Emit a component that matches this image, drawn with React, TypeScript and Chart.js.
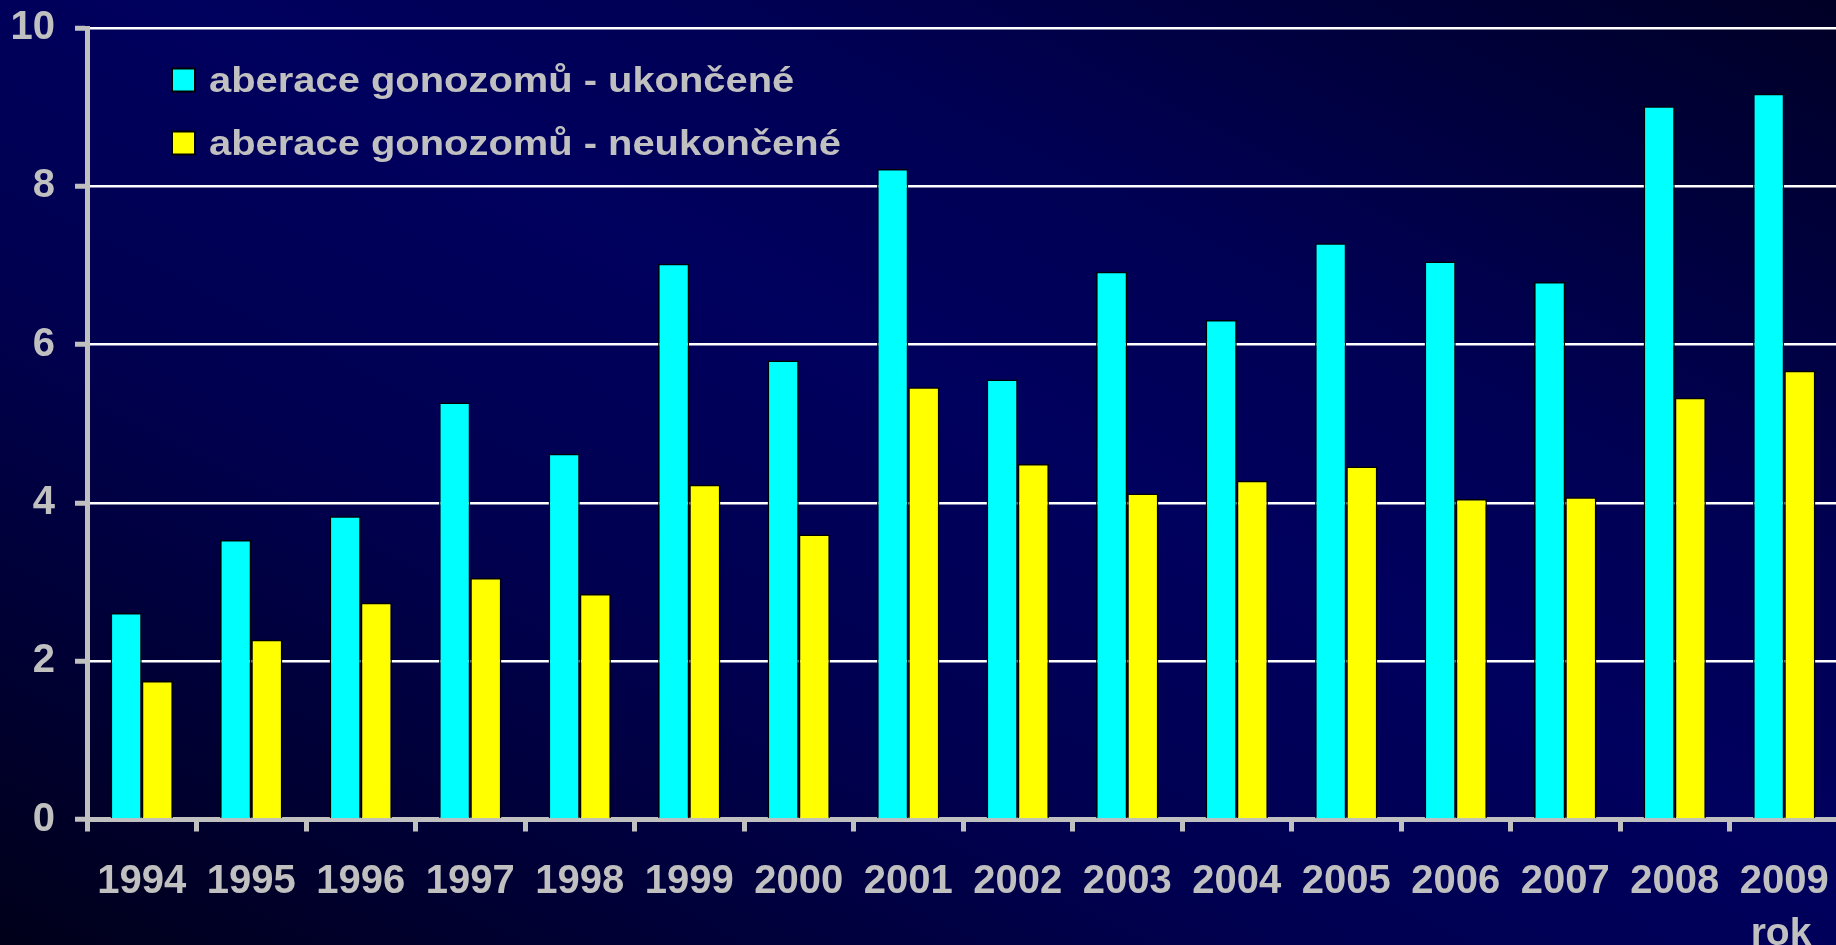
import React, { useEffect, useRef } from "react";
import { Chart, registerables } from "chart.js";

Chart.register(...registerables);

const categories = ["1994", "1995", "1996", "1997", "1998", "1999", "2000", "2001", "2002", "2003", "2004", "2005", "2006", "2007", "2008", "2009"];
const ukoncene = [2.61, 3.53, 3.83, 5.27, 4.62, 7.02, 5.8, 8.22, 5.56, 6.92, 6.31, 7.28, 7.05, 6.79, 9.01, 9.17];
const neukoncene = [1.75, 2.27, 2.74, 3.05, 2.85, 4.23, 3.6, 5.46, 4.49, 4.12, 4.28, 4.46, 4.05, 4.07, 5.33, 5.67];
const seriesLabels = ["aberace gonozomů - ukončené", "aberace gonozomů - neukončené"];
const yTicks = [0, 2, 4, 6, 8, 10];
const axisTitle = "rok";

const FONT = '"Liberation Sans", Arial, sans-serif';
const GRAY = "#c0c0c0";

const overlayPlugin = {
  id: "overlay",
  afterDraw(chart: any) {
    const ctx = chart.ctx;
    ctx.save();
    chart.data.datasets.forEach((ds: any, i: number) => {
      const bx = 172;
      const by = 68.5 + i * 63;
      ctx.fillStyle = ds.backgroundColor;
      ctx.fillRect(bx, by, 23, 23);
      ctx.lineWidth = 2;
      ctx.strokeStyle = "#000";
      ctx.strokeRect(bx, by, 23, 23);
      ctx.save();
      ctx.translate(209, by + 23.5);
      ctx.scale(1.14, 1);
      ctx.font = `bold 35px ${FONT}`;
      ctx.fillStyle = GRAY;
      ctx.textBaseline = "alphabetic";
      ctx.textAlign = "left";
      ctx.fillText(ds.label, 0, 0);
      ctx.restore();
    });
    ctx.font = `bold 39px ${FONT}`;
    ctx.fillStyle = GRAY;
    ctx.textAlign = "center";
    ctx.textBaseline = "alphabetic";
    ctx.fillText(axisTitle, 1781, 945);
    ctx.restore();
  },
};

export default function App() {
  const ref = useRef<HTMLCanvasElement | null>(null);
  useEffect(() => {
    if (!ref.current) return;
    const chart = new Chart(ref.current, {
      type: "bar",
      data: {
        labels: categories,
        datasets: [
          { label: seriesLabels[0], data: ukoncene, backgroundColor: "#00ffff", borderColor: "#000000", borderWidth: 1.5 },
          { label: seriesLabels[1], data: neukoncene, backgroundColor: "#ffff00", borderColor: "#000000", borderWidth: 1.5 },
        ],
      },
      options: {
        responsive: false,
        animation: false,
        layout: { padding: { top: 28, right: 21, left: 0, bottom: 0 } },
        datasets: { bar: { barPercentage: 1, categoryPercentage: 0.569 } },
        plugins: { legend: { display: false }, tooltip: { enabled: false } },
        scales: {
          x: {
            afterFit: (s: any) => { s.height = 125.5; s.paddingLeft = 0; s.paddingRight = 0; },
            grid: { drawOnChartArea: false, color: GRAY, tickColor: GRAY, tickWidth: 5, tickLength: 12, lineWidth: 5 },
            border: { color: GRAY, width: 5 },
            ticks: { color: GRAY, font: { family: FONT, size: 40, weight: "bold" }, padding: 26, maxRotation: 0, autoSkip: false },
          },
          y: {
            min: 0,
            max: 10,
            afterFit: (s: any) => { s.width = 87; s.paddingTop = 0; s.paddingBottom = 0; },
            afterBuildTicks: (s: any) => { s.ticks = yTicks.map((v) => ({ value: v })); },
            grid: {
              color: (c: any) => (c.tick && c.tick.value === 0 ? "rgba(0,0,0,0)" : "#ffffff"),
              lineWidth: 2.5,
              tickColor: GRAY,
              tickWidth: 5,
              tickLength: 12,
            },
            border: { color: GRAY, width: 5 },
            ticks: { color: GRAY, font: { family: FONT, size: 40, weight: "bold" }, padding: 20 },
          },
        },
      },
      plugins: [overlayPlugin],
    });
    return () => chart.destroy();
  }, []);
  return (
    <div
      style={{
        position: "fixed",
        left: 0,
        top: 0,
        width: 1836,
        height: 945,
        overflow: "hidden",
        background: "linear-gradient(to top right, #00001a 0%, #000050 35%, #00005e 55%, #000054 70%, #000026 100%)",
      }}
    >
      <canvas ref={ref} width={1860} height={945} style={{ display: "block" }} />
    </div>
  );
}
